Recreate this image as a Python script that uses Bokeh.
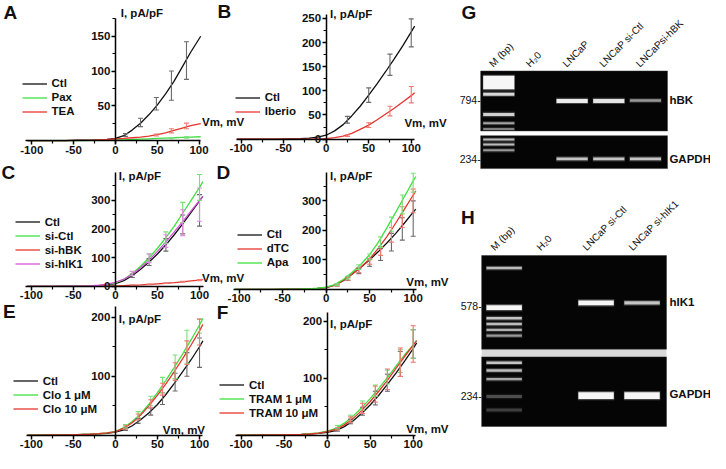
import numpy as np
from bokeh.plotting import figure
from bokeh.models import (Range1d, LinearAxis, FixedTicker, Whisker, TeeHead,
                          ColumnDataSource, Legend, LegendItem, Label)
from bokeh.embed import file_html
from bokeh.resources import INLINE

# ---------------- data ----------------
GRID = [-105, -90, -75, -60, -45, -30, -20, -10, 0, 10, 20, 30, 40, 50, 60, 70, 80, 90, 100, 104]

# Panel A
A_v = [-105, -90, -75, -60, -45, -30, -20, -10, 0, 10, 20, 30, 40, 50, 60, 70, 80, 90, 102]
A_ctl = [0, 0, 0, 0, 0.5, 0.5, 1, 1.5, 3, 7, 15, 25, 37, 51, 67, 85, 106, 127, 150]
A_pax = [0, 0, 0, 0, 0, 0.3, 0.5, 0.7, 1, 1, 1.5, 2, 2.5, 3, 3.5, 4, 4.5, 5, 5.5]
A_tea = [0, 0, 0, 0, 0.3, 0.5, 1, 1.5, 2.5, 3, 4, 5, 6.5, 8.5, 11, 14.5, 18, 21.5, 24.5]
A_ctl_v = [12, 30, 49, 67, 85]
A_ctl_m = [8, 26, 53, 79, 115]
A_ctl_e = [2, 6, 9, 21, 27]
A_tea_v = [49, 67, 85]
A_tea_m = [8, 14, 21]
A_tea_e = [1.5, 3, 4]
A_pax_v = [67, 85]
A_pax_m = [3.5, 4.5]
A_pax_e = [0.8, 1]

# Panel B
B_v = GRID
B_ctl = [0, 0, 0, 0, 0.5, 1, 2, 4, 8, 17, 30, 48, 68, 91, 115, 140, 166, 193, 222, 234]
B_ibe = [0, 0, 0, 0, 0, 0, 0, 0.5, 1, 3, 6, 12, 20, 29, 40, 52, 64, 77, 90, 96]
B_err_v = [25, 50, 75, 100]
B_ctl_m = [40, 91, 154, 220]
B_ctl_e = [7, 15, 22, 29]
B_ibe_m = [7, 29, 58, 92]
B_ibe_e = [1.5, 5, 10, 17]

# Panel C
C_v = GRID
C_ctl = [0, 0, 0, 0.5, 1, 1, 2, 5, 10, 20, 37, 60, 85, 113, 145, 180, 218, 258, 298, 314]
C_sictl = [0, 0, 0, 0.5, 1, 1.5, 3, 6, 12, 25, 45, 70, 100, 133, 170, 210, 255, 300, 345, 365]
C_sihbk = [0, 0, 0, 0, 0, 0.5, 1, 1.5, 2, 3, 4, 5, 7, 9, 11, 13, 16, 19, 22, 24]
C_sihik = [0, 0, 0, 0.5, 1, 2, 4, 8, 14, 25, 42, 65, 92, 122, 155, 190, 226, 263, 300, 314]
C_err_v = [20, 40, 60, 80, 100]
C_ctl_m = [37, 85, 145, 216, 265]
C_ctl_e = [6, 12, 22, 33, 55]
C_sictl_m = [45, 100, 170, 258, 345]
C_sictl_e = [7, 14, 20, 35, 45]
C_sihbk_m = [4, 7, 11, 16, 22]
C_sihbk_e = [0.5, 1, 1, 1.5, 2]
C_sihik_m = [45, 98, 158, 222, 285]
C_sihik_e = [8, 15, 22, 45, 58]

# Panel D
D_v = [-105, -90, -75, -60, -45, -30, -20, -10, 0, 10, 20, 30, 40, 50, 60, 70, 80, 90, 100, 103]
D_ctl = [0, 0, 0, 0, 0.5, 0.5, 1, 3, 6, 14, 30, 52, 75, 100, 128, 158, 190, 225, 262, 272]
D_dtc = [0, 0, 0, 0, 0.5, 0.5, 1, 3, 6, 14, 30, 52, 76, 103, 140, 180, 225, 272, 320, 334]
D_apa = [0, 0, 0, 0, 0.5, 1, 1.5, 3.5, 7, 16, 34, 58, 85, 118, 160, 210, 262, 315, 368, 383]
D_err_v = [12.5, 25, 37.5, 50, 62.5, 75, 87.5, 100]
D_ctl_m = [14, 36, 62, 90, 118, 160, 205, 240]
D_ctl_e = [3, 6, 9, 12, 20, 30, 38, 60]
D_dtc_m = [14, 36, 65, 95, 130, 185, 245, 300]
D_dtc_e = [3, 5, 8, 10, 15, 25, 35, 40]
D_apa_m = [16, 40, 75, 110, 160, 221, 288, 362]
D_apa_e = [3, 5, 8, 10, 18, 24, 32, 32]

# Panel E
E_v = GRID
E_ctl = [0, 0, 0.5, 0.5, 1, 1.5, 2, 3, 5, 9, 16, 26, 38, 52, 69, 88, 108, 128, 150, 160]
E_c1 = [0, 0, 0.5, 0.5, 1, 1.5, 2.5, 4, 6, 13, 23, 36, 53, 72, 93, 115, 138, 162, 187, 198]
E_c10 = [0, 0, 0.5, 0.5, 1, 1.5, 2.5, 4, 6, 12, 21, 34, 50, 68, 87, 108, 130, 153, 177, 188]
E_err_v = [12, 27, 42, 56, 71, 85, 100]
E_ctl_m = [10, 24, 40, 62, 90, 120, 140]
E_ctl_e = [2, 4, 6, 10, 15, 20, 25]
E_c1_m = [15, 35, 58, 85, 116, 150, 185]
E_c1_e = [3, 5, 8, 13, 20, 28, 12]
E_c10_m = [13, 31, 53, 78, 108, 140, 175]
E_c10_e = [3, 5, 7, 10, 15, 20, 22]

# Panel F
F_v = GRID
F_ctl = [0, 0, 0.5, 0.5, 1, 1.5, 2, 3, 5, 8, 15, 25, 38, 53, 70, 89, 109, 130, 152, 162]
F_t1 = [0, 0, 0.5, 0.5, 1, 1.5, 2.5, 4, 7, 12, 21, 33, 48, 64, 82, 101, 121, 141, 158, 166]
F_t10 = [0, 0, 0.5, 0.5, 1, 1.5, 2, 3.5, 6, 10, 18, 29, 43, 59, 77, 96, 117, 138, 158, 166]
F_err_v = [12, 27, 41, 56, 70, 85, 100]
F_ctl_m = [9, 24, 42, 65, 92, 125, 160]
F_ctl_e = [2, 4, 7, 12, 15, 22, 25]
F_t1_m = [14, 30, 52, 78, 102, 130, 160]
F_t1_e = [3, 5, 8, 10, 12, 20, 25]
F_t10_m = [11, 27, 47, 72, 98, 128, 160]
F_t10_e = [2, 5, 9, 14, 18, 25, 32]

X_TICKS = [-100, -50, 0, 50, 100]
X_MINOR = [-75, -25, 25, 75]
X_LABELS = ["-100", "-50", "0", "50", "100"]

# Gel G (hBK)
G_lanes = ["M (bp)", "H\u20820", "LNCaP", "LNCaP si-Ctl", "LNCaPsi-hBK"]
G_band_lane = [0, 0, 0, 0, 0, 2, 3, 4, 0, 0, 0, 2, 3, 4]
G_band_pos = [85, 97, 118, 127, 133, 104, 104, 103.5, 144, 149, 155, 164, 164, 164]
G_band_thick = [14, 3, 3, 2, 2, 4, 4, 2.5, 2, 2, 2, 3, 3, 3]
G_band_int = [1.0, 0.85, 0.8, 0.6, 0.45, 0.95, 0.9, 0.55, 0.7, 0.7, 0.55, 0.75, 0.75, 0.75]
G_markers = ["794", "234"]
G_genes = ["hBK", "GAPDH"]

# Gel H (hIK1)
H_lanes = ["M (bp)", "H\u20820", "LNCaP si-Ctl", "LNCaP si-hIK1"]
H_band_lane = [0, 0, 0, 0, 0, 0, 2, 3, 0, 0, 0, 0, 0, 2, 3]
H_band_pos = [277, 318, 329, 335, 341, 347, 313, 313, 375, 383, 392, 410, 424, 409, 409]
H_band_thick = [2.5, 5, 2.5, 2.5, 2.5, 2.5, 5, 3.5, 2.5, 2.5, 2.5, 3, 3, 7, 7]
H_band_int = [0.7, 1.0, 0.75, 0.7, 0.65, 0.55, 1.0, 0.75, 0.75, 0.7, 0.6, 0.25, 0.2, 1.0, 1.0]
H_markers = ["578", "234"]
H_genes = ["hIK1", "GAPDH"]

# ---------------- layout / styles ----------------
REF_W, REF_H = 726, 469
W, H = 710, 453
SX, SY = W / REF_W, H / REF_H
FONT = "Liberation Sans"
BLACK, GREEN, RED, MAGENTA = "#111111", "#3fe03f", "#e6352d", "#d452d4"
BARC = {BLACK: "#6a6a6a", GREEN: "#78e078", RED: "#ef7a72", MAGENTA: "#e48ae4"}

p = figure(width=W, height=H, x_range=Range1d(0, REF_W), y_range=Range1d(REF_H, 0),
           x_axis_type=None, y_axis_type=None, output_backend="svg",
           toolbar_location=None, min_border=0, outline_line_color=None)
p.background_fill_color = "white"
p.border_fill_color = "white"

panels = {
    "A": dict(a=117.5, b=0.855, c=145, d=0.72, xb=(-107, 102), yb=(-4, 176),
              yt=[50, 100, 150], ym=[25, 75, 125, 175]),
    "B": dict(a=333, b=0.87, c=143.5, d=0.50, xb=(-105, 104), yb=(-6, 258),
              yt=[0, 50, 100, 150, 200, 250], ym=[25, 75, 125, 175, 225]),
    "C": dict(a=117.5, b=0.86, c=296, d=0.297, xb=(-107, 105), yb=(-10, 397),
              yt=[0, 100, 200, 300], ym=[50, 150, 250, 350]),
    "D": dict(a=333, b=0.89, c=299, d=0.305, xb=(-106, 104), yb=(-8, 397),
              yt=[100, 200, 300], ym=[50, 150, 250, 350]),
    "E": dict(a=117.5, b=0.86, c=450, d=0.61, xb=(-106, 104), yb=(-6, 218),
              yt=[100, 200], ym=[50, 150]),
    "F": dict(a=334, b=0.88, c=450, d=0.59, xb=(-107, 103), yb=(-6, 216),
              yt=[100, 200], ym=[50, 150]),
}

for k, q in panels.items():
    p.extra_x_ranges[k + "x"] = Range1d(start=(0 - q["a"]) / q["b"], end=(REF_W - q["a"]) / q["b"])
    p.extra_y_ranges[k + "y"] = Range1d(start=(q["c"] - REF_H) / q["d"], end=q["c"] / q["d"])


def style_axis(ax):
    ax.axis_line_width = 1.5
    ax.axis_line_color = "black"
    ax.major_tick_line_width = 1.5
    ax.minor_tick_line_width = 1.2
    ax.major_tick_out = 4
    ax.major_tick_in = 0
    ax.minor_tick_out = 3
    ax.minor_tick_in = 0
    ax.major_label_text_font = FONT
    ax.major_label_text_font_style = "bold"
    ax.major_label_text_font_size = "11.5px"
    ax.major_label_text_color = "#111111"
    ax.major_label_standoff = 1


for k, q in panels.items():
    xa = LinearAxis(x_range_name=k + "x", y_range_name=k + "y", fixed_location=0,
                    ticker=FixedTicker(ticks=X_TICKS, minor_ticks=X_MINOR), bounds=q["xb"],
                    major_label_overrides=dict(zip(X_TICKS, X_LABELS)))
    style_axis(xa)
    p.add_layout(xa, "below")
    ya = LinearAxis(x_range_name=k + "x", y_range_name=k + "y", fixed_location=0,
                    ticker=FixedTicker(ticks=q["yt"], minor_ticks=q["ym"]), bounds=q["yb"])
    style_axis(ya)
    p.add_layout(ya, "left")


def curve(k, v, vals, color):
    return p.line(v, vals, line_color=color, line_width=1.3,
                  x_range_name=k + "x", y_range_name=k + "y")


def bars(k, v, m, e, color):
    c = BARC[color]
    src = ColumnDataSource(dict(x=v, lo=[a - b for a, b in zip(m, e)], hi=[a + b for a, b in zip(m, e)]))
    w = Whisker(source=src, base="x", lower="lo", upper="hi", dimension="height",
                line_color=c, line_width=1.1,
                upper_head=TeeHead(size=5, line_color=c, line_width=1.1),
                lower_head=TeeHead(size=5, line_color=c, line_width=1.1),
                x_range_name=k + "x", y_range_name=k + "y", level="glyph")
    p.add_layout(w)


def legend(items, x, ybot):
    lg = Legend(items=[LegendItem(label=t, renderers=[r]) for t, r in items],
                location=(x * SX, (REF_H - ybot) * SY), orientation="vertical",
                background_fill_alpha=0, border_line_alpha=0, padding=0, margin=0,
                spacing=1, glyph_width=25, glyph_height=13, label_height=13,
                label_standoff=5, label_text_font=FONT, label_text_font_style="bold",
                label_text_font_size="11.5px", label_text_color="#111111")
    p.add_layout(lg)


def text(x, y, s, size="11.5px", style="bold", align="left", baseline="middle",
         angle=0, xr="default", x_off=0):
    p.add_layout(Label(x=x, y=y, text=s, text_font=FONT, text_font_size=size,
                       text_font_style=style, text_align=align, text_baseline=baseline,
                       text_color="#111111", angle=angle, angle_units="deg",
                       x_range_name=xr, x_offset=x_off))


# Panel A
rA1 = curve("A", A_v, A_ctl, BLACK)
rA2 = curve("A", A_v, A_pax, GREEN)
rA3 = curve("A", A_v, A_tea, RED)
bars("A", A_ctl_v, A_ctl_m, A_ctl_e, BLACK)
bars("A", A_tea_v, A_tea_m, A_tea_e, RED)
bars("A", A_pax_v, A_pax_m, A_pax_e, GREEN)
legend([("Ctl", rA1), ("Pax", rA2), ("TEA", rA3)], 22, 122)

# Panel B
rB1 = curve("B", B_v, B_ctl, BLACK)
rB2 = curve("B", B_v, B_ibe, RED)
bars("B", B_err_v, B_ctl_m, B_ctl_e, BLACK)
bars("B", B_err_v, B_ibe_m, B_ibe_e, RED)
legend([("Ctl", rB1), ("Iberio", rB2)], 240, 122)

# Panel C
rC1 = curve("C", C_v, C_ctl, BLACK)
rC2 = curve("C", C_v, C_sictl, GREEN)
rC3 = curve("C", C_v, C_sihbk, RED)
rC4 = curve("C", C_v, C_sihik, MAGENTA)
bars("C", C_err_v, C_ctl_m, C_ctl_e, BLACK)
bars("C", C_err_v, C_sictl_m, C_sictl_e, GREEN)
bars("C", C_err_v, C_sihbk_m, C_sihbk_e, RED)
bars("C", C_err_v, C_sihik_m, C_sihik_e, MAGENTA)
legend([("Ctl", rC1), ("si-Ctl", rC2), ("si-hBK", rC3), ("si-hIK1", rC4)], 15, 280)

# Panel D
rD1 = curve("D", D_v, D_ctl, BLACK)
rD2 = curve("D", D_v, D_dtc, RED)
rD3 = curve("D", D_v, D_apa, GREEN)
bars("D", D_err_v, D_ctl_m, D_ctl_e, BLACK)
bars("D", D_err_v, D_dtc_m, D_dtc_e, RED)
bars("D", D_err_v, D_apa_m, D_apa_e, GREEN)
legend([("Ctl", rD1), ("dTC", rD2), ("Apa", rD3)], 242, 278)

# Panel E
rE1 = curve("E", E_v, E_ctl, BLACK)
rE2 = curve("E", E_v, E_c1, GREEN)
rE3 = curve("E", E_v, E_c10, RED)
bars("E", E_err_v, E_ctl_m, E_ctl_e, BLACK)
bars("E", E_err_v, E_c1_m, E_c1_e, GREEN)
bars("E", E_err_v, E_c10_m, E_c10_e, RED)
legend([("Ctl", rE1), ("Clo 1 \u03bcM", rE2), ("Clo 10 \u03bcM", rE3)], 13, 430)

# Panel F
rF1 = curve("F", F_v, F_ctl, BLACK)
rF2 = curve("F", F_v, F_t1, GREEN)
rF3 = curve("F", F_v, F_t10, RED)
bars("F", F_err_v, F_ctl_m, F_ctl_e, BLACK)
bars("F", F_err_v, F_t1_m, F_t1_e, GREEN)
bars("F", F_err_v, F_t10_m, F_t10_e, RED)
legend([("Ctl", rF1), ("TRAM 1 \u03bcM", rF2), ("TRAM 10 \u03bcM", rF3)], 224, 434)

# axis titles and panel letters (reference pixel frame)
for lx, ly in [(123, 13), (337, 14), (121, 182), (337, 182), (121, 330), (337, 335)]:
    text(lx, ly, "I, pA/pF")
for lx, ly in [(206, 126), (413, 127), (206, 287), (415, 291), (166, 445), (415, 444)]:
    text(lx, ly, "Vm, mV")
for s, lx, ly in [("A", 10, 12), ("B", 229, 11), ("C", 8, 178), ("D", 228, 178),
                  ("E", 9, 322), ("F", 227, 323), ("G", 479, 12), ("H", 478, 225)]:
    text(lx, ly, s, size="19px", align="center")

# ---------------- gels ----------------
p.extra_x_ranges["Gx"] = Range1d(start=(0 - 509.5) / 37.5, end=(REF_W - 509.5) / 37.5)
p.extra_x_ranges["Hx"] = Range1d(start=(0 - 515) / 47, end=(REF_W - 515) / 47)

p.quad(left=491, right=682, top=73, bottom=135, fill_color="#050505", line_color="#333333", line_width=0.5)
p.quad(left=491, right=682, top=140, bottom=174, fill_color="#050505", line_color="#333333", line_width=0.5)
p.quad(left=492, right=681, top=361, bottom=369, fill_color="#d9d9d9", line_color=None)
p.quad(left=492, right=681, top=264, bottom=361, fill_color="#050505", line_color="#333333", line_width=0.5)
p.quad(left=492, right=681, top=369, bottom=441, fill_color="#050505", line_color="#333333", line_width=0.5)


def bands(xr, lane, pos, thick, inten, width):
    glow = ColumnDataSource(dict(x=lane, y=pos, h=[t + 2.5 for t in thick],
                                 a=[i * 0.3 for i in inten]))
    core = ColumnDataSource(dict(x=lane, y=pos, h=thick, a=inten))
    p.rect(x="x", y="y", width=width * 1.03, height="h", source=glow, fill_color="#dddddd",
           fill_alpha="a", line_color=None, x_range_name=xr)
    p.rect(x="x", y="y", width=width, height="h", source=core, fill_color="#f6f6f6",
           fill_alpha="a", line_color=None, x_range_name=xr)


bands("Gx", G_band_lane, G_band_pos, G_band_thick, G_band_int, 0.85)
bands("Hx", H_band_lane, H_band_pos, H_band_thick, H_band_int, 0.77)

for i, s in enumerate(G_lanes):
    text(i, 71, s, size="10px", style="normal", baseline="bottom", angle=45, xr="Gx", x_off=-4)
for i, s in enumerate(H_lanes):
    text(i, 261, s, size="10px", style="normal", baseline="bottom", angle=45, xr="Hx", x_off=-8)

for s, yy in zip(G_markers, [103, 164]):
    text(491, yy, s + "-", size="10.5px", style="normal", align="right")
for s, yy in zip(H_markers, [316, 409]):
    text(492, yy, s + "-", size="10.5px", style="normal", align="right")
for s, yy in zip(G_genes, [103, 164]):
    text(684, yy, s, size="11.5px")
for s, yy in zip(H_genes, [312, 407]):
    text(684, yy, s, size="11.5px")

open("out.html", "w").write(file_html(p, INLINE))
